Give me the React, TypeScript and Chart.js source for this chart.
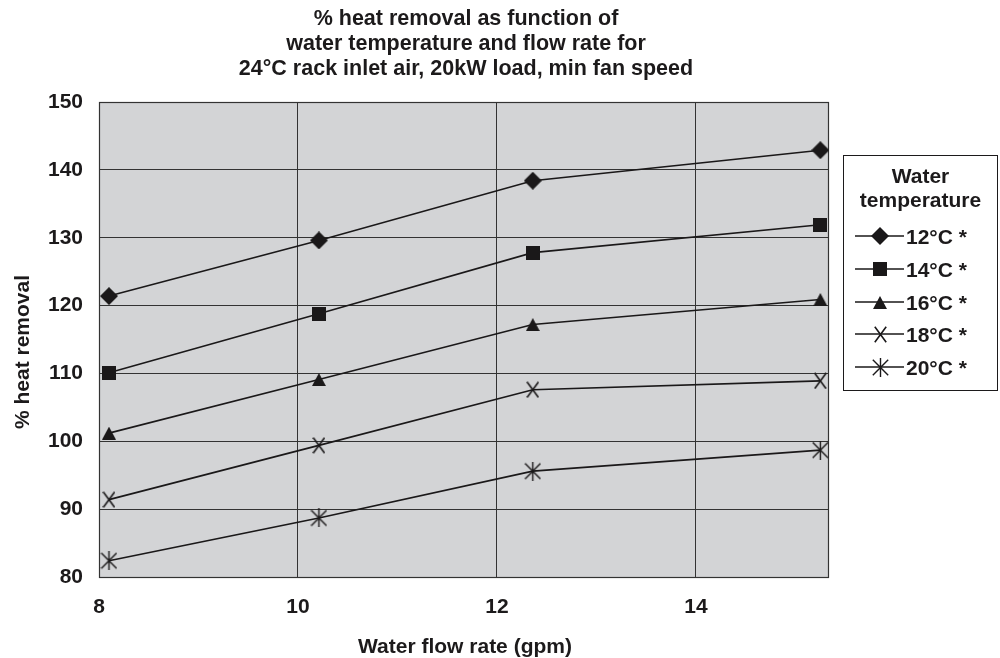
import React, { useEffect, useRef } from "react";
import { Chart, registerables } from "chart.js";

Chart.register(...registerables);

// ---------- data ----------
const titleLines = [
  "% heat removal as function of",
  "water temperature and flow rate for",
  "24°C rack inlet air, 20kW load, min fan speed",
];
const xAxisTitle = "Water flow rate (gpm)";
const yAxisTitle = "% heat removal";
const legendTitle = ["Water", "temperature"];

const flowRates = [8.1, 10.21, 12.36, 15.25];
const seriesLabels = ["12°C *", "14°C *", "16°C *", "18°C *", "20°C *"];
const temp12 = [121.4, 129.6, 138.4, 142.9];
const temp14 = [110.1, 118.8, 127.8, 131.9];
const temp16 = [101.2, 109.1, 117.2, 120.9];
const temp18 = [91.4, 99.4, 107.6, 108.9];
const temp20 = [82.4, 88.7, 95.6, 98.7];
const markerKinds = ["diamond", "square", "triangle", "x", "star"];

const xTicks = [8, 10, 12, 14];
const yMin = 80;
const yMax = 150;
const yStep = 10;

// ---------- styling ----------
const FONT = "'Liberation Sans', Arial, Helvetica, sans-serif";
const INK = "#1c1a1b";
const LINE = "#1a1819";
const GRID = "#333333";
const PLOT_BG = "#d3d4d6";

function makeMarker(kind: string): HTMLCanvasElement {
  const c = document.createElement("canvas");
  let ctx: CanvasRenderingContext2D;
  if (kind === "diamond") {
    c.width = 18; c.height = 18;
    ctx = c.getContext("2d")!;
    ctx.fillStyle = LINE;
    ctx.beginPath();
    ctx.moveTo(9, 0); ctx.lineTo(18, 9); ctx.lineTo(9, 18); ctx.lineTo(0, 9);
    ctx.closePath(); ctx.fill();
  } else if (kind === "square") {
    c.width = 14; c.height = 14;
    ctx = c.getContext("2d")!;
    ctx.fillStyle = LINE;
    ctx.fillRect(0, 0, 14, 14);
  } else if (kind === "triangle") {
    c.width = 14; c.height = 13;
    ctx = c.getContext("2d")!;
    ctx.fillStyle = LINE;
    ctx.beginPath();
    ctx.moveTo(7, 0); ctx.lineTo(14, 13); ctx.lineTo(0, 13);
    ctx.closePath(); ctx.fill();
  } else if (kind === "x") {
    c.width = 13; c.height = 17;
    ctx = c.getContext("2d")!;
    ctx.strokeStyle = LINE; ctx.lineWidth = 1.6;
    ctx.beginPath();
    ctx.moveTo(0.8, 0.8); ctx.lineTo(12.2, 16.2);
    ctx.moveTo(12.2, 0.8); ctx.lineTo(0.8, 16.2);
    ctx.stroke();
  } else {
    c.width = 17; c.height = 19;
    ctx = c.getContext("2d")!;
    ctx.strokeStyle = LINE; ctx.lineWidth = 1.4;
    ctx.beginPath();
    ctx.moveTo(0.8, 1.8); ctx.lineTo(16.2, 17.2);
    ctx.moveTo(16.2, 1.8); ctx.lineTo(0.8, 17.2);
    ctx.moveTo(8.5, 0); ctx.lineTo(8.5, 19);
    ctx.stroke();
  }
  return c;
}

export default function App() {
  const ref = useRef<HTMLCanvasElement | null>(null);

  useEffect(() => {
    if (!ref.current) return;
    const markers = markerKinds.map(makeMarker);
    const seriesValues = [temp12, temp14, temp16, temp18, temp20];

    const datasets = seriesValues.map((vals, i) => ({
      label: seriesLabels[i],
      data: vals.map((v, j) => ({ x: flowRates[j], y: v })),
      borderColor: LINE,
      backgroundColor: LINE,
      borderWidth: 1.6,
      pointStyle: markers[i] as any,
      pointRadius: 9,
      tension: 0,
      clip: false as any,
    }));

    const decor = {
      id: "decor",
      beforeDraw(chart: any) {
        const { ctx, chartArea: a } = chart;
        ctx.save();
        ctx.fillStyle = PLOT_BG;
        ctx.fillRect(a.left, a.top, a.right - a.left, a.bottom - a.top);
        ctx.restore();
      },
      beforeDatasetsDraw(chart: any) {
        const { ctx, chartArea: a } = chart;
        ctx.save();
        ctx.strokeStyle = GRID;
        ctx.lineWidth = 1.2;
        ctx.strokeRect(Math.round(a.left) + 0.5, Math.round(a.top) + 0.5,
          Math.round(a.right - a.left), Math.round(a.bottom - a.top));
        ctx.restore();
      },
      afterDraw(chart: any) {
        const { ctx } = chart;
        ctx.save();
        ctx.fillStyle = INK;
        // Title
        ctx.font = `bold 21.5px ${FONT}`;
        ctx.textAlign = "center";
        ctx.textBaseline = "alphabetic";
        titleLines.forEach((t, i) => ctx.fillText(t, 466, 25 + i * 25));
        ctx.font = `bold 21px ${FONT}`;
        // X title
        ctx.fillText(xAxisTitle, 465, 653);
        // Y title
        ctx.save();
        ctx.translate(29, 352);
        ctx.rotate(-Math.PI / 2);
        ctx.fillText(yAxisTitle, 0, 0);
        ctx.restore();
        // Legend
        ctx.strokeStyle = INK;
        ctx.lineWidth = 1;
        ctx.strokeRect(843.5, 155.5, 154, 235);
        ctx.fillText(legendTitle[0], 920.5, 183);
        ctx.fillText(legendTitle[1], 920.5, 207);
        ctx.textAlign = "left";
        seriesLabels.forEach((lab, i) => {
          const y = Math.round(236 + i * 32.8);
          ctx.strokeStyle = LINE;
          ctx.lineWidth = 1.5;
          ctx.beginPath();
          ctx.moveTo(855, y);
          ctx.lineTo(904, y);
          ctx.stroke();
          const m = markers[i];
          ctx.drawImage(m, Math.round(880 - m.width / 2), Math.round(y - m.height / 2));
          ctx.fillStyle = INK;
          ctx.fillText(lab, 906, y + 7.5);
        });
        ctx.restore();
      },
    };

    const chart = new Chart(ref.current, {
      type: "line",
      data: { datasets: datasets as any },
      options: {
        animation: false,
        responsive: false,
        devicePixelRatio: 1,
        layout: { padding: { top: 102, right: 172, left: 0, bottom: 0 } },
        plugins: {
          legend: { display: false },
          title: { display: false },
          tooltip: { enabled: false },
        },
        scales: {
          x: {
            type: "linear",
            min: 8,
            max: 15.327,
            afterFit: (s: any) => { s.height = 81; },
            afterBuildTicks: (s: any) => { s.ticks = xTicks.map((v) => ({ value: v })); },
            grid: {
              drawTicks: false,
              color: (c: any) => (c.tick && c.tick.value === 8 ? "rgba(0,0,0,0)" : GRID),
              lineWidth: 1,
            },
            border: { display: true, color: GRID, width: 1 },
            ticks: {
              autoSkip: false,
              maxRotation: 0,
              padding: 18,
              color: INK,
              font: { family: FONT, size: 21, weight: "bold" },
            },
          },
          y: {
            type: "linear",
            min: yMin,
            max: yMax,
            afterFit: (s: any) => { s.width = 99; },
            grid: {
              drawTicks: false,
              color: GRID,
              lineWidth: 1,
            },
            border: { display: true, color: GRID, width: 1 },
            ticks: {
              stepSize: yStep,
              padding: 16,
              color: INK,
              font: { family: FONT, size: 21, weight: "bold" },
            },
          },
        },
      },
      plugins: [decor],
    });
    return () => chart.destroy();
  }, []);

  return (
    <div style={{ position: "absolute", left: 0, top: 0, width: 1000, height: 658, background: "#fff" }}>
      <canvas ref={ref} width={1000} height={658} style={{ display: "block" }} />
    </div>
  );
}
